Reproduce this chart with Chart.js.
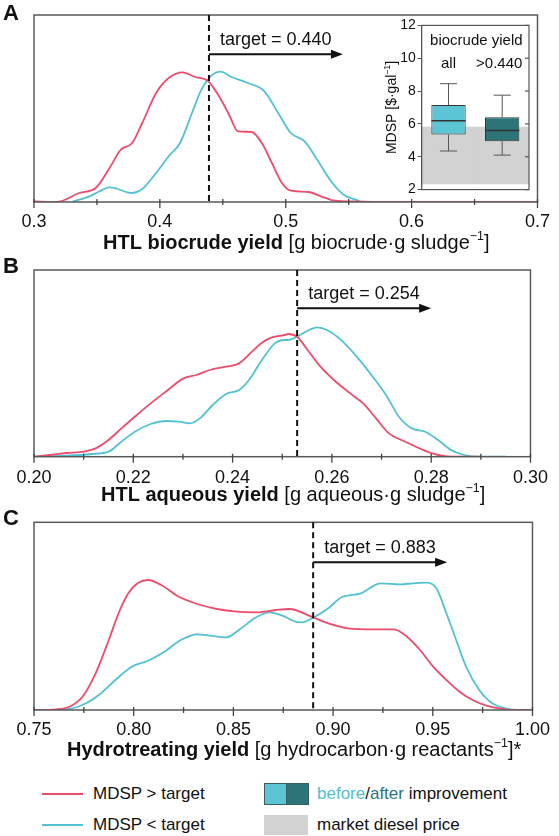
<!DOCTYPE html>
<html><head><meta charset="utf-8">
<script src="https://cdn.jsdelivr.net/npm/chart.js@4.4.1/dist/chart.umd.min.js"></script>
<style>
body{margin:0;background:#fff;width:559px;height:836px;position:relative;overflow:hidden;font-family:"Liberation Sans",Arial,sans-serif;}
canvas{position:absolute;}
.lg{position:absolute;font-size:17px;color:#111;height:20px;line-height:20px;white-space:nowrap;}
</style></head><body>
<canvas id="cA" width="559" height="258" style="left:0;top:0"></canvas>
<canvas id="cB" width="559" height="268" style="left:0;top:248px"></canvas>
<canvas id="cC" width="559" height="266" style="left:0;top:500px"></canvas>
<canvas id="cI" width="165" height="185" style="left:372px;top:15px"></canvas>

<div style="position:absolute;left:42px;top:793px;width:41px;height:2px;background:#EE4C6C"></div>
<div class="lg" style="left:93px;top:784px">MDSP &gt; target</div>
<div style="position:absolute;left:42px;top:824px;width:41px;height:2px;background:#52C2D2"></div>
<div class="lg" style="left:93px;top:815px">MDSP &lt; target</div>
<div style="position:absolute;left:264px;top:783px;width:21px;height:20px;background:#5CC5D5;border:1px solid #3a5f63;border-right:none"></div>
<div style="position:absolute;left:286px;top:783px;width:21px;height:20px;background:#2D7479;border:1px solid #3a5f63"></div>
<div class="lg" style="left:317px;top:784px"><span style="color:#4FBFD0">before</span>/<span style="color:#2D7479">after</span> improvement</div>
<div style="position:absolute;left:264px;top:815px;width:44px;height:20px;background:#D2D2D2"></div>
<div class="lg" style="left:317px;top:815px">market diesel price</div>

<script>
// ---------- DATA ----------
// Panel A: HTL biocrude yield
const aTarget = 0.439;
const aTargetText = 'target = 0.440';
const aRedX  = [0.300,0.318,0.336,0.349,0.360,0.369,0.378,0.386,0.397,0.407,0.418,0.428,0.438,0.447,0.455,0.462,0.473,0.481,0.489,0.497,0.504,0.518,0.528,0.539,0.555,0.573,0.700];
const aRedY  = [0.7,0,9,14,34,52.3,59,79,109,124,129.7,125,121.3,105.7,87.3,70.7,70,59,39,19,11.3,10,5.7,1.3,0.5,0,0];
const aCyanX = [0.330,0.344,0.352,0.360,0.3665,0.377,0.386,0.397,0.407,0.416,0.4255,0.433,0.441,0.448,0.457,0.470,0.483,0.494,0.504,0.515,0.525,0.536,0.546,0.5556,0.560];
const aCyanY = [0,5.7,10.7,14.7,13,9,13,29,45.7,59,89,112.3,126.3,130.3,125,119,110.7,89,69,60.7,42.3,20.7,7.3,2.3,0];

// Panel B: HTL aqueous yield
const bTarget = 0.253;
const bTargetText = 'target = 0.254';
const bRedX  = [0.200,0.2032,0.2065,0.2101,0.2124,0.2150,0.2176,0.2203,0.2235,0.2268,0.2301,0.2327,0.2354,0.2387,0.2413,0.2439,0.2459,0.2479,0.2505,0.2512,0.2530,0.2551,0.2577,0.2604,0.2637,0.2663,0.2689,0.2715,0.2748,0.2781,0.2814,0.2840,0.2900];
const bRedY  = [0,1.7,3.7,5,8.3,16.7,28.3,40,53.3,66,78.3,81.7,86.7,90,93.3,105,114,119.3,121.7,122.7,120,106.7,90,76.7,63.3,53.3,38.3,23.3,15,7.3,1.7,0,0];
const bCyanX = [0.200,0.2065,0.2117,0.2150,0.2176,0.2203,0.2235,0.2268,0.2291,0.2314,0.2334,0.2360,0.2387,0.2413,0.2433,0.2459,0.2485,0.2505,0.2512,0.2530,0.2551,0.2571,0.2590,0.2617,0.2650,0.2682,0.2709,0.2735,0.2761,0.2788,0.2814,0.2840,0.2867,0.2893,0.2950];
const bCyanY = [0,1,2.7,5,15,25,32.7,35.7,35,33.3,38.3,51.7,62.7,66.7,76.7,96.7,113.3,116.7,116.7,120,126,129.3,126.7,117.3,100,80,61.7,40,28.3,25,16.7,6.7,1.7,0,0];

// Panel C: Hydrotreating yield
const cTarget = 0.890;
const cTargetText = 'target = 0.883';
const cRedX  = [0.750,0.7612,0.7678,0.7743,0.7809,0.7875,0.7924,0.7973,0.8023,0.8072,0.8138,0.8220,0.8319,0.8417,0.8516,0.8614,0.8713,0.8779,0.8904,0.8976,0.9075,0.9206,0.9305,0.9371,0.9436,0.9502,0.9568,0.9634,0.9699,0.9765,0.9831,0.9896,1.000];
const cRedY  = [0,0.7,3.3,13.3,36.7,70,96.7,116.7,127.3,130,125,114,106,101,98.3,97.7,100,101,92.3,86.7,81.7,80.7,80.7,73.3,60,43.3,30,18.3,10,4.7,1.7,0,0];
const cCyanX = [0.750,0.7661,0.7743,0.7825,0.7908,0.7990,0.8072,0.8154,0.8236,0.8319,0.8384,0.8466,0.8532,0.8614,0.8680,0.8746,0.8812,0.8845,0.8904,0.8976,0.9042,0.9140,0.9239,0.9338,0.9403,0.9469,0.9518,0.9568,0.9617,0.9667,0.9733,0.9798,0.9864,0.9930,1.000];
const cCyanY = [0,0.7,5,15,30,43.3,49.3,58.3,70,75.7,74.3,72.7,80.7,92.7,97.7,94.3,88.3,87.7,92.7,101.7,112.7,116.7,126.7,125.7,126.7,127.3,121.7,96.7,70,43.3,20,6.7,1.7,0,0];

// Inset box plot: MDSP [$/gal]
const boxCats  = ['all', '>0.440'];
const boxLow   = [4.35, 4.10];
const boxQ1    = [5.35, 4.95];
const boxMed   = [6.20, 5.60];
const boxQ3    = [7.15, 6.40];
const boxHigh  = [8.45, 7.75];
const marketLow = 2.35, marketHigh = 5.80;

// ---------- STYLE ----------
const RED = '#EE4C6C', CYAN = '#52C2D2';
const BOX_BEFORE = '#5CC5D5', BOX_AFTER = '#2D7479', MARKET = '#D2D2D2';
const FONT = '"Liberation Sans", Arial, sans-serif';
Chart.defaults.font.family = FONT;
Chart.defaults.color = '#111';

function pts(xs, ys){ return xs.map((x,i)=>({x:x, y:ys[i]})); }

function drawTitle(ctx, parts, x, y, size){
  let cx = x;
  ctx.textAlign = 'left'; ctx.textBaseline = 'middle';
  for (const p of parts){
    const fs = p.sup ? size*0.62 : size;
    ctx.font = (p.bold ? 'bold ' : '') + fs + 'px ' + FONT;
    ctx.fillText(p.t, cx, y + (p.sup ? -size*0.33 : 0));
    cx += ctx.measureText(p.t).width;
  }
}

function makePanel(id, o){
  const plugin = {
    id: 'deco'+id,
    afterDraw(chart){
      const {ctx, chartArea:a, scales:{x}} = chart;
      ctx.save();
      // frame
      ctx.strokeStyle = '#5a5a5a'; ctx.lineWidth = 1.5;
      ctx.strokeRect(a.left, a.top, a.right-a.left, a.bottom-a.top);
      // tick marks (crossing the axis)
      ctx.lineWidth = 1.3; ctx.strokeStyle = '#444';
      x.ticks.forEach(t=>{
        const px = x.getPixelForValue(t.value);
        const major = t.label !== '';
        ctx.beginPath(); ctx.moveTo(px, a.bottom-3); ctx.lineTo(px, a.bottom + (major?6:3)); ctx.stroke();
      });
      // target line
      const tx = x.getPixelForValue(o.target);
      ctx.strokeStyle = '#111'; ctx.lineWidth = 2; ctx.setLineDash([6,4]);
      ctx.beginPath(); ctx.moveTo(tx, a.top); ctx.lineTo(tx, a.bottom); ctx.stroke();
      ctx.setLineDash([]);
      // arrow
      const ay = a.top + o.arrowDy;
      ctx.beginPath(); ctx.moveTo(tx, ay); ctx.lineTo(tx+124, ay); ctx.stroke();
      ctx.fillStyle = '#111';
      ctx.beginPath(); ctx.moveTo(tx+134, ay); ctx.lineTo(tx+122, ay-4.5); ctx.lineTo(tx+122, ay+4.5); ctx.closePath(); ctx.fill();
      ctx.font = o.targetSize + 'px ' + FONT; ctx.textAlign='left'; ctx.textBaseline='middle';
      ctx.fillText(o.targetText, tx+11, ay-14);
      // axis title
      drawTitle(ctx, o.title, o.titleX, a.bottom + o.titleDy, o.titleSize);
      // panel letter
      ctx.font = 'bold 22px ' + FONT; ctx.textBaseline = 'alphabetic'; ctx.textAlign='left';
      ctx.fillText(o.letter, 3, o.letterY);
      ctx.restore();
    }
  };
  return new Chart(document.getElementById(id), {
    type: 'line',
    data: { datasets: [
      { label:'MDSP > target', data: pts(o.redX, o.redY), borderColor: RED, borderWidth: 1.8, pointRadius: 0, tension: 0.4, cubicInterpolationMode:'monotone', fill:false },
      { label:'MDSP < target', data: pts(o.cyanX, o.cyanY), borderColor: CYAN, borderWidth: 1.8, pointRadius: 0, tension: 0.4, cubicInterpolationMode:'monotone', fill:false }
    ]},
    options: {
      responsive:false, animation:false, devicePixelRatio:1,
      layout:{ padding:{ left:34, right:17, top:o.padTop, bottom:0 } },
      plugins:{ legend:{display:false}, tooltip:{enabled:false} },
      scales:{
        x:{ type:'linear', min:o.min, max:o.max,
            ticks:{ stepSize:o.step, autoSkip:false, maxRotation:0, padding:o.tickPad,
                    font:{size:18}, color:'#111',
                    callback:(v)=>{ const m = v/o.major; return Math.abs(m-Math.round(m))<1e-6 ? v.toFixed(o.dec) : ''; } },
            grid:{ drawOnChartArea:false, drawTicks:false },
            border:{ display:false },
            afterFit:(s)=>{ s.height = o.axisH; } },
        y:{ display:false, min:0, max:o.ymax }
      }
    },
    plugins:[plugin]
  });
}

makePanel('cA', { redX:aRedX, redY:aRedY, cyanX:aCyanX, cyanY:aCyanY, target:aTarget, targetText:aTargetText,
  min:0.3, max:0.7, step:0.05, major:0.1, dec:1, ymax:187, padTop:15, axisH:56, tickPad:9,
  arrowDy:39.3, targetSize:18, titleX:103, titleDy:41, titleSize:20, letter:'A', letterY:20,
  title:[{t:'HTL biocrude yield',bold:true},{t:' [g biocrude·g sludge'},{t:'−1',sup:true},{t:']'}] });

makePanel('cB', { redX:bRedX, redY:bRedY, cyanX:bCyanX, cyanY:bCyanY, target:bTarget, targetText:bTargetText,
  min:0.2, max:0.3, step:0.01, major:0.02, dec:2, ymax:186.7, padTop:22, axisH:59.3, tickPad:11,
  arrowDy:38.3, targetSize:18, titleX:101, titleDy:38.3, titleSize:20, letter:'B', letterY:24.7,
  title:[{t:'HTL aqueous yield',bold:true},{t:' [g aqueous·g sludge'},{t:'−1',sup:true},{t:']'}] });

makePanel('cC', { redX:cRedX, redY:cRedY, cyanX:cCyanX, cyanY:cCyanY, target:cTarget, targetText:cTargetText,
  min:0.75, max:1.0, step:0.025, major:0.05, dec:2, ymax:187.7, padTop:22.3, axisH:56, tickPad:9,
  arrowDy:40, targetSize:18, titleX:67, titleDy:40, titleSize:20, letter:'C', letterY:25,
  title:[{t:'Hydrotreating yield',bold:true},{t:' [g hydrocarbon·g reactants'},{t:'−1',sup:true},{t:']*'}] });

// ---------- INSET ----------
const insetPlugin = {
  id:'insetDeco',
  afterDatasetsDraw(chart){
    const {ctx, chartArea:a, scales:{x,y}} = chart;
    ctx.save();
    const bw = (x.getPixelForValue(1)-x.getPixelForValue(0));
    boxCats.forEach((c,i)=>{
      const cx = x.getPixelForValue(i);
      const half = bw*0.64/2, cap = bw*0.16;
      ctx.strokeStyle = '#555'; ctx.lineWidth = 1;
      ctx.beginPath();
      ctx.moveTo(cx, y.getPixelForValue(boxQ3[i])); ctx.lineTo(cx, y.getPixelForValue(boxHigh[i]));
      ctx.moveTo(cx-cap, y.getPixelForValue(boxHigh[i])); ctx.lineTo(cx+cap, y.getPixelForValue(boxHigh[i]));
      ctx.moveTo(cx, y.getPixelForValue(boxQ1[i])); ctx.lineTo(cx, y.getPixelForValue(boxLow[i]));
      ctx.moveTo(cx-cap, y.getPixelForValue(boxLow[i])); ctx.lineTo(cx+cap, y.getPixelForValue(boxLow[i]));
      ctx.stroke();
      ctx.strokeStyle = '#333'; ctx.lineWidth = 1.5;
      ctx.beginPath(); ctx.moveTo(cx-half, y.getPixelForValue(boxMed[i])); ctx.lineTo(cx+half, y.getPixelForValue(boxMed[i])); ctx.stroke();
      ctx.fillStyle = '#111'; ctx.font = '15px ' + FONT; ctx.textAlign='center'; ctx.textBaseline='middle';
      ctx.fillText(c, cx - (i===1 ? 3 : 0), a.top + 38.7);
    });
    ctx.fillText('biocrude yield', (a.left+a.right)/2 + 1, a.top + 15.4);
    // frame and right ticks
    ctx.strokeStyle = '#555'; ctx.lineWidth = 1.2;
    ctx.strokeRect(a.left, a.top, a.right-a.left, a.bottom-a.top);
    y.ticks.forEach(t=>{ const py = y.getPixelForValue(t.value);
      ctx.beginPath(); ctx.moveTo(a.right-4, py); ctx.lineTo(a.right, py); ctx.stroke(); });
    // y title
    ctx.translate(20, (a.top+a.bottom)/2); ctx.rotate(-Math.PI/2);
    const parts = [{t:'MDSP [$·gal'},{t:'−1',sup:true},{t:']'}];
    let w = 0; parts.forEach(p=>{ ctx.font = (p.sup? 14*0.62 : 14) + 'px ' + FONT; w += ctx.measureText(p.t).width; });
    drawTitle(ctx, parts, -w/2, 0, 14);
    ctx.restore();
  }
};

new Chart(document.getElementById('cI'), {
  type:'bar',
  data:{ labels: boxCats, datasets:[
    { label:'box', data: boxCats.map((c,i)=>[boxQ1[i], boxQ3[i]]), backgroundColor:[BOX_BEFORE, BOX_AFTER],
      borderColor:'#333', borderWidth:1, borderSkipped:false, barPercentage:0.64, categoryPercentage:1, order:1 },
    { label:'market diesel price', data: boxCats.map(()=>[marketLow, marketHigh]), backgroundColor:MARKET,
      borderWidth:0, barPercentage:1, categoryPercentage:1, order:2 }
  ]},
  options:{
    responsive:false, animation:false, devicePixelRatio:1,
    layout:{ padding:{ left:0, right:8, top:10.3, bottom:8 } },
    plugins:{ legend:{display:false}, tooltip:{enabled:false} },
    datasets:{ bar:{ grouped:false } },
    scales:{
      x:{ display:false, offset:true },
      y:{ min:2, max:12, ticks:{ stepSize:2, font:{size:14}, color:'#111', padding:2 },
          grid:{ drawOnChartArea:false, tickLength:4, color:'#555' },
          border:{ color:'#555' },
          afterFit:(s)=>{ s.width = 49.7; } }
    }
  },
  plugins:[insetPlugin]
});
</script>
</body></html>
